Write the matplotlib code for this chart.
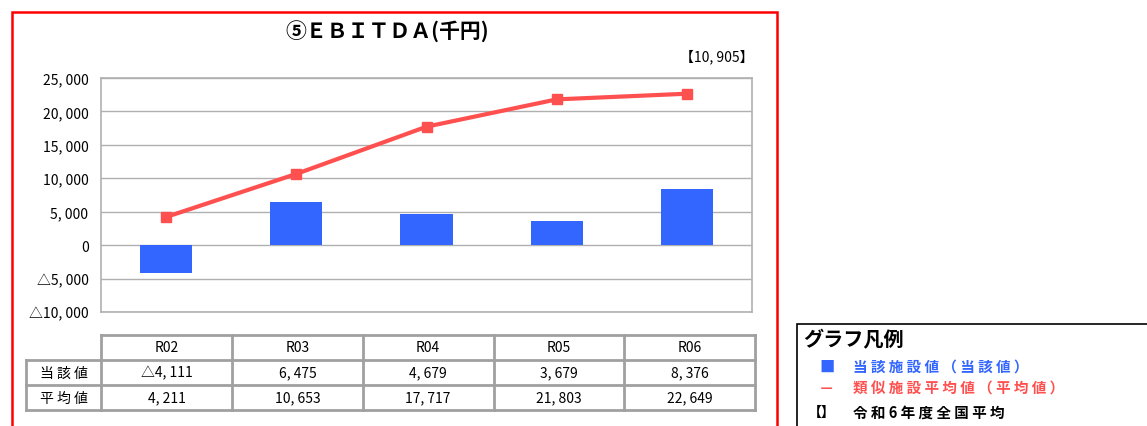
import matplotlib
matplotlib.use("Agg")
import matplotlib.pyplot as plt
from matplotlib.patches import Rectangle

plt.rcParams['font.family'] = ['Noto Sans CJK JP', 'DejaVu Sans']

years = ["R02", "R03", "R04", "R05", "R06"]
own_vals = [-4111, 6475, 4679, 3679, 8376]
avg_vals = [4211, 10653, 17717, 21803, 22649]
national_avg = 10905
yticks = [-10000, -5000, 0, 5000, 10000, 15000, 20000, 25000]

BLUE = "#3366FF"
RED = "#FF5050"
GRID = "#B0B0B0"

W, H = 1147, 427


def fmt(v):
    s = f"{abs(v):,}".replace(",", ", ")
    return ("△" + s) if v < 0 else s


def px(x, y):
    # pixel coords (top-left origin) -> figure fraction
    return x / W, 1 - y / H


fig = plt.figure(figsize=(W / 100, H / 100), dpi=100)

# red outer frame
fig.patches.append(Rectangle(px(12, 440), 765 / W, 427 / H, transform=fig.transFigure,
                             fill=False, edgecolor="red", linewidth=1.8))
# legend frame
fig.patches.append(Rectangle(px(797, 440), 400 / W, 115 / H, transform=fig.transFigure,
                             fill=False, edgecolor="black", linewidth=1.2))

# main plot
l, b = px(101, 313)
ax = fig.add_axes([l, b, (752 - 101) / W, (313 - 79) / H])
x = list(range(len(years)))
ax.bar(x, own_vals, width=0.4, color=BLUE, zorder=3)
ax.plot(x, avg_vals, color=RED, linewidth=3, marker="s", markersize=7, zorder=4)
ax.set_xlim(-0.5, 4.5)
ax.set_ylim(-10000, 25000)
ax.set_yticks(yticks)
ax.set_yticklabels([fmt(v) for v in yticks], fontsize=10)
ax.set_xticks([])
ax.tick_params(axis="y", length=0, pad=9)
ax.grid(axis="y", color=GRID, linewidth=1)
for s in ax.spines.values():
    s.set_color(GRID)
    s.set_linewidth(1.2)

fig.text(*px(387, 32), "⑤ＥＢＩＴＤＡ(千円)", fontsize=15, fontweight="bold",
         ha="center", va="center")
fig.text(*px(753, 57), f"【{national_avg:,}】".replace(",", ", "), fontsize=10,
         ha="right", va="center")

# data table
tl, tb = px(26, 411)
tax = fig.add_axes([tl, tb, (755 - 26) / W, (411 - 336) / H])
lab_w = 75 / 130.2
tax.set_xlim(-0.5 - lab_w, 4.5)
tax.set_ylim(0, 3)
tax.axis("off")
lc = "#A0A0A0"
lw = 2
# horizontal lines
tax.plot([-0.5, 4.5], [3, 3], color=lc, lw=lw, clip_on=False)
tax.plot([-0.5 - lab_w, 4.5], [2, 2], color=lc, lw=lw, clip_on=False)
tax.plot([-0.5 - lab_w, 4.5], [1, 1], color=lc, lw=lw, clip_on=False)
tax.plot([-0.5 - lab_w, 4.5], [0, 0], color=lc, lw=lw, clip_on=False)
# vertical lines
tax.plot([-0.5 - lab_w] * 2, [0, 2], color=lc, lw=lw, clip_on=False)
for i in range(len(years) + 1):
    tax.plot([i - 0.5] * 2, [0, 3], color=lc, lw=lw, clip_on=False)
for i, yr in enumerate(years):
    tax.text(i, 2.5, yr, ha="center", va="center", fontsize=10)
    tax.text(i, 1.5, fmt(own_vals[i]), ha="center", va="center", fontsize=10)
    tax.text(i, 0.5, fmt(avg_vals[i]), ha="center", va="center", fontsize=10)
tax.text(-0.5 - lab_w / 2, 1.5, "当 該 値", ha="center", va="center", fontsize=10)
tax.text(-0.5 - lab_w / 2, 0.5, "平 均 値", ha="center", va="center", fontsize=10)

# legend text
fig.text(*px(803, 340), "グラフ凡例", fontsize=14.5, fontweight="bold", va="center")
fig.text(*px(819, 367), "■", fontsize=11, color=BLUE, va="center")
fig.text(*px(853, 367), "当 該 施 設 値 （ 当 該 値 ）", fontsize=10.5, fontweight="bold",
         color=BLUE, va="center")
fig.text(*px(819, 389), "－", fontsize=11, fontweight="bold", color=RED, va="center")
fig.text(*px(853, 389), "類 似 施 設 平 均 値 （ 平 均 値 ）", fontsize=10.5, fontweight="bold",
         color=RED, va="center")
fig.text(*px(808, 413), "【】", fontsize=10, fontweight="bold", va="center")
fig.text(*px(853, 413), "令 和 6 年 度 全 国 平 均", fontsize=10.5, fontweight="bold", va="center")

fig.savefig("out.png", dpi=100)
